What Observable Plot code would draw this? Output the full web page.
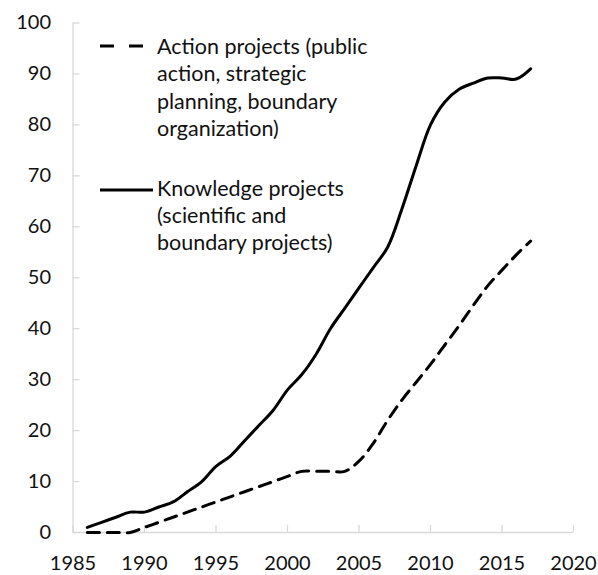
<!DOCTYPE html>
<html>
<head>
<meta charset="utf-8">
<script src="https://cdn.jsdelivr.net/npm/d3@7"></script>
<script src="https://cdn.jsdelivr.net/npm/@observablehq/plot@0.6"></script>
<style>
  html, body { margin: 0; padding: 0; background: #fff; }
  #wrap { position: relative; width: 598px; height: 575px; font-family: Lato, "Open Sans", sans-serif; color: #111; }
  .leg { position: absolute; font-size: 21.5px; line-height: 27.4px; white-space: nowrap; }
  .sample { position: absolute; }
</style>
</head>
<body>
<div id="wrap"></div>
<script>
const years = [1986,1987,1988,1989,1990,1991,1992,1993,1994,1995,1996,1997,1998,1999,2000,2001,2002,2003,2004,2005,2006,2007,2008,2009,2010,2011,2012,2013,2014,2015,2016,2017];
const knowledge = [1,2,3,4,4,5,6,8,10,13,15,18,21,24,28,31,35,40,44,48,52,56,63.5,72,80,84.5,87,88.2,89.2,89.2,89,91];
const action = [0,0,0,0,1,2,3,4,5,6,7,8,9,10,11,12,12,12,12,14,17.5,22,26,29.5,33,36.8,40.6,44.6,48.4,51.5,54.5,57.2];
const xTicks = [1985,1990,1995,2000,2005,2010,2015,2020];
const yTicks = [0,10,20,30,40,50,60,70,80,90,100];
const seriesNames = {
  action: ["Action projects (public", "action, strategic", "planning, boundary", "organization)"],
  knowledge: ["Knowledge projects", "(scientific and", "boundary projects)"]
};

const kData = years.map((y, i) => ({year: y, value: knowledge[i]}));
const aData = years.map((y, i) => ({year: y, value: action[i]}));

const axisColor = "#d9d9d9";
const chart = Plot.plot({
  width: 598,
  height: 575,
  marginLeft: 72.5,
  marginRight: 25,
  marginTop: 22.5,
  marginBottom: 43,
  style: {fontFamily: "Lato, 'Open Sans', sans-serif", fontSize: "20px", color: "#111", background: "#fff"},
  x: {domain: [1985, 2020]},
  y: {domain: [0, 100]},
  marks: [
    Plot.ruleX([1985], {stroke: axisColor, strokeWidth: 1.3}),
    Plot.ruleY([0], {stroke: axisColor, strokeWidth: 1.3}),
    Plot.axisY({ticks: yTicks, tickSize: -7, stroke: axisColor, strokeWidth: 1.3, tickFormat: () => "", label: null}),
    Plot.axisY({ticks: yTicks, tickSize: 0, tickPadding: 22, tickFormat: d => String(d), label: null, fill: "#111"}),
    Plot.axisX({ticks: xTicks, tickSize: -7, stroke: axisColor, strokeWidth: 1.3, tickFormat: () => "", label: null}),
    Plot.axisX({ticks: xTicks, tickSize: 0, tickPadding: 23, tickFormat: d => String(d), label: null, fill: "#111"}),
    Plot.line(aData, {x: "year", y: "value", stroke: "#000", strokeWidth: 3, strokeDasharray: "12,8", curve: "catmull-rom"}),
    Plot.line(kData, {x: "year", y: "value", stroke: "#000", strokeWidth: 3, curve: "catmull-rom"})
  ]
});

const wrap = document.getElementById("wrap");
wrap.appendChild(chart);

function addSample(x1, x2, y, dash) {
  const ns = "http://www.w3.org/2000/svg";
  const s = document.createElementNS(ns, "svg");
  s.setAttribute("class", "sample");
  s.setAttribute("width", x2 - x1 + 4);
  s.setAttribute("height", 8);
  s.style.left = (x1) + "px";
  s.style.top = (y - 4) + "px";
  const l = document.createElementNS(ns, "line");
  l.setAttribute("x1", 0); l.setAttribute("x2", x2 - x1);
  l.setAttribute("y1", 4); l.setAttribute("y2", 4);
  l.setAttribute("stroke", "#000");
  l.setAttribute("stroke-width", 3);
  if (dash) l.setAttribute("stroke-dasharray", dash);
  s.appendChild(l);
  wrap.appendChild(s);
}
function addText(lines, x, top) {
  const d = document.createElement("div");
  d.className = "leg";
  d.style.left = x + "px";
  d.style.top = top + "px";
  d.innerHTML = lines.join("<br>");
  wrap.appendChild(d);
}
addSample(100, 143, 46, "14,15");
addText(seriesNames.action, 157, 33);
addSample(100, 153, 190, null);
addText(seriesNames.knowledge, 157, 174.5);
</script>
</body>
</html>
